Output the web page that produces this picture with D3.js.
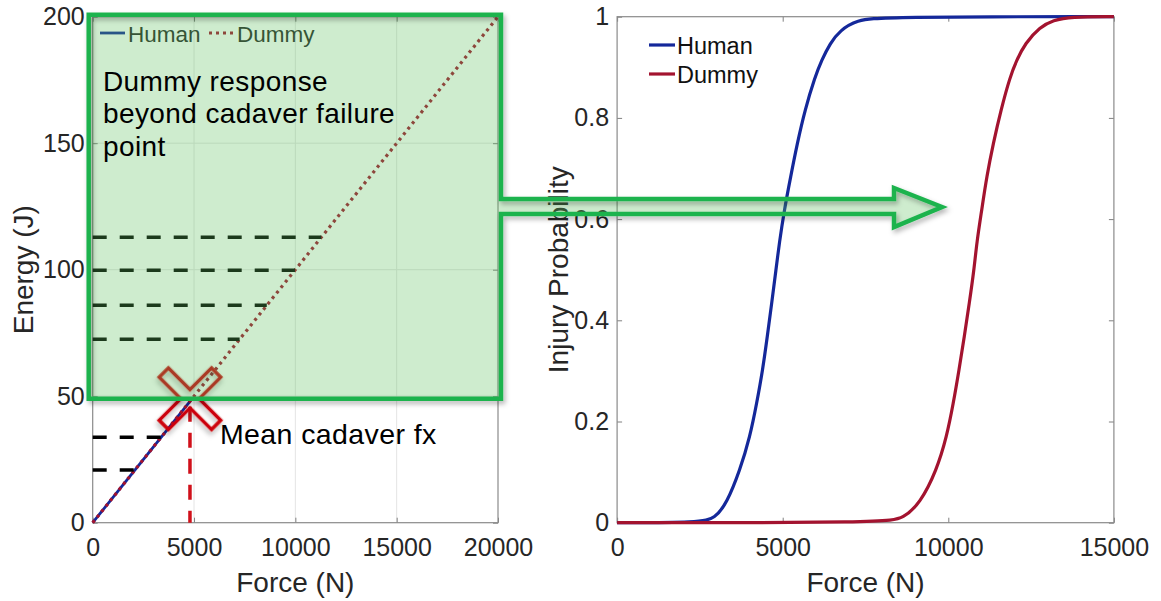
<!DOCTYPE html>
<html>
<head>
<meta charset="utf-8">
<script src="https://cdn.jsdelivr.net/npm/d3@7"></script>
<style>
  body { margin: 0; background: #fff; }
  svg { display: block; font-family: "Liberation Sans", Arial, sans-serif; }
  .tick text { fill: #262626; font-size: 25px; }
  .tick line { stroke: #808080; }
</style>
</head>
<body>
<div id="chart"></div>
<script>
// left panel: energy vs force
var leftForce = [0, 20000];
var dummyEnergy = [0, 200];
var humanForce = [0, 4800];
var humanEnergy = [0, 48];
var meanFx = 4800, meanE = 49;
var dashLevels = [112.8, 99.8, 85.9, 72.5, 33.8, 20.8];
var leftXTicks = [0, 5000, 10000, 15000, 20000];
var leftYTicks = [0, 50, 100, 150, 200];

// right panel: injury probability vs force
var humanCurveForce = [0, 2500, 2956, 3309, 3711, 4013, 4215, 4396, 4535, 4668, 4798, 4898, 5048, 5241, 5441, 5673, 5975, 6177, 6428, 6730, 7234, 8000, 15000];
var humanCurveProb  = [0, 0, 0.009, 0.038, 0.104, 0.17, 0.236, 0.302, 0.368, 0.434, 0.5, 0.553, 0.618, 0.684, 0.75, 0.816, 0.881, 0.914, 0.947, 0.973, 0.993, 1, 1];
var dummyCurveForce = [0, 8140, 8642, 9146, 9650, 9952, 10152, 10324, 10484, 10635, 10777, 10858, 11009, 11160, 11359, 11591, 11863, 12065, 12316, 12769, 13171, 13675, 15000];
var dummyCurveProb  = [0, 0, 0.009, 0.038, 0.104, 0.17, 0.236, 0.302, 0.368, 0.434, 0.5, 0.553, 0.618, 0.684, 0.75, 0.816, 0.881, 0.914, 0.947, 0.98, 0.993, 1, 1];
var rightXTicks = [0, 5000, 10000, 15000];
var rightYTicks = [0, 0.2, 0.4, 0.6, 0.8, 1];

var humanColor = "#14289a", dummyColor = "#a3132f";

(function() {
    var width = 1161, height = 601;

    var svg = d3.select("#chart")
        .append("svg")
            .attr("width", width)
            .attr("height", height);

    var defs = svg.append("defs");
    defs.append("filter")
        .attr("id", "shadow")
        .attr("x", "-10%").attr("y", "-10%")
        .attr("width", "130%").attr("height", "130%")
        .append("feDropShadow")
            .attr("dx", 2).attr("dy", 3)
            .attr("stdDeviation", 2.5)
            .attr("flood-color", "#000")
            .attr("flood-opacity", 0.3);

    var xL = d3.scaleLinear().domain([0, 20000]).range([92.7, 498]),
        yL = d3.scaleLinear().domain([0, 200]).range([522.7, 16.7]),
        xR = d3.scaleLinear().domain([0, 15000]).range([617.1, 1113.9]),
        yR = d3.scaleLinear().domain([0, 1]).range([522.7, 16.7]);

    function drawAxes(g, x, y, xTicks, yTicks, yFmt) {
        g.append("g")
            .attr("transform", "translate(0," + y.range()[0] + ")")
            .call(d3.axisBottom(x).tickValues(xTicks).tickFormat(d3.format("d"))
                .tickSizeInner(-5).tickSizeOuter(0).tickPadding(16))
            .call(function(a) { a.select(".domain").remove(); });
        g.append("g")
            .attr("transform", "translate(0," + y.range()[1] + ")")
            .call(d3.axisTop(x).tickValues(xTicks).tickFormat("")
                .tickSizeInner(-5).tickSizeOuter(0))
            .call(function(a) { a.select(".domain").remove(); });
        g.append("g")
            .attr("transform", "translate(" + x.range()[0] + ",0)")
            .call(d3.axisLeft(y).tickValues(yTicks).tickFormat(yFmt)
                .tickSizeInner(-5).tickSizeOuter(0).tickPadding(8))
            .call(function(a) { a.select(".domain").remove(); });
        g.append("g")
            .attr("transform", "translate(" + x.range()[1] + ",0)")
            .call(d3.axisRight(y).tickValues(yTicks).tickFormat("")
                .tickSizeInner(-5).tickSizeOuter(0))
            .call(function(a) { a.select(".domain").remove(); });
        g.append("rect")
            .attr("x", x.range()[0])
            .attr("y", y.range()[1])
            .attr("width", x.range()[1] - x.range()[0])
            .attr("height", y.range()[0] - y.range()[1])
            .style("fill", "none")
            .style("stroke", "#8a8a8a")
            .style("stroke-width", 1.2);
        g.selectAll(".tick text").style("font-size", "25px");
    }

    // ---------- left panel ----------
    var left = svg.append("g");

    left.append("g").selectAll("line.vgrid")
        .data(leftXTicks.slice(1, -1))
        .enter().append("line")
            .attr("x1", function(d) { return xL(d); })
            .attr("x2", function(d) { return xL(d); })
            .attr("y1", yL(0)).attr("y2", yL(200))
            .style("stroke", "#e4e4e4");
    left.append("g").selectAll("line.hgrid")
        .data(leftYTicks.slice(1, -1))
        .enter().append("line")
            .attr("x1", xL(0)).attr("x2", xL(20000))
            .attr("y1", function(d) { return yL(d); })
            .attr("y2", function(d) { return yL(d); })
            .style("stroke", "#e4e4e4");

    drawAxes(left, xL, yL, leftXTicks, leftYTicks, d3.format("d"));

    var lineL = d3.line()
        .x(function(d) { return xL(d[0]); })
        .y(function(d) { return yL(d[1]); });

    left.append("path")
        .attr("d", lineL(d3.zip(humanForce, humanEnergy)))
        .style("fill", "none")
        .style("stroke", humanColor)
        .style("stroke-width", 2.8);

    left.append("path")
        .attr("d", lineL(d3.zip(leftForce, dummyEnergy)))
        .style("fill", "none")
        .style("stroke", dummyColor)
        .style("stroke-width", 3.2)
        .style("stroke-dasharray", "3,4");

    // dashed energy levels, ending on the dummy response line
    var forceAt = d3.scaleLinear().domain(dummyEnergy).range(leftForce);
    left.append("g").selectAll("line")
        .data(dashLevels)
        .enter().append("line")
            .attr("x1", xL(0))
            .attr("x2", function(d) { return xL(forceAt(d)); })
            .attr("y1", function(d) { return yL(d); })
            .attr("y2", function(d) { return yL(d); })
            .style("stroke", "#000")
            .style("stroke-width", 3.5)
            .style("stroke-dasharray", "14,13");

    // mean cadaver fracture: dashed drop line + cross
    left.append("line")
        .attr("x1", xL(meanFx)).attr("x2", xL(meanFx))
        .attr("y1", yL(meanE) + 8).attr("y2", yL(0))
        .style("stroke", "#d0101a")
        .style("stroke-width", 3.5)
        .style("stroke-dasharray", "15,11");

    var a = 6.5, b = 37;
    var cross = [[-a,-b],[a,-b],[a,-a],[b,-a],[b,a],[a,a],[a,b],[-a,b],[-a,a],[-b,a],[-b,-a],[-a,-a]];
    left.append("polygon")
        .attr("points", cross.map(function(p) { return p.join(","); }).join(" "))
        .attr("transform", "translate(" + xL(meanFx) + "," + yL(meanE) + ") rotate(45)")
        .style("fill", "none")
        .style("stroke", "#cc0008")
        .style("stroke-width", 3.4)
        .attr("filter", "url(#shadow)");

    // legend (left)
    var legL = left.append("g").attr("transform", "translate(100,33)");
    var legLItems = [
        {name: "Human", color: humanColor, dash: null, x: 0},
        {name: "Dummy", color: dummyColor, dash: "3,4", x: 109}
    ];
    legLItems.forEach(function(d) {
        legL.append("line")
            .attr("x1", d.x).attr("x2", d.x + 25)
            .style("stroke", d.color)
            .style("stroke-width", 2.8)
            .style("stroke-dasharray", d.dash);
        legL.append("text")
            .attr("x", d.x + 28).attr("y", 8.5)
            .style("font-size", "22.5px")
            .style("fill", "#262626")
            .text(d.name);
    });

    left.append("text")
        .attr("x", d3.mean(xL.range()))
        .attr("y", 592)
        .attr("text-anchor", "middle")
        .style("font-size", "28px")
        .style("fill", "#262626")
        .text("Force (N)");
    left.append("text")
        .attr("transform", "translate(33," + d3.mean(yL.range()) + ") rotate(-90)")
        .attr("text-anchor", "middle")
        .style("font-size", "28px")
        .style("fill", "#262626")
        .text("Energy (J)");

    // ---------- right panel ----------
    var right = svg.append("g");
    drawAxes(right, xR, yR, rightXTicks, rightYTicks, function(d) { return d3.format("")(+d.toFixed(1)); });

    var lineR = d3.line()
        .curve(d3.curveBasis)
        .x(function(d) { return xR(d[0]); })
        .y(function(d) { return yR(d[1]); });

    right.append("path")
        .attr("d", lineR(d3.zip(humanCurveForce, humanCurveProb)))
        .style("fill", "none")
        .style("stroke", humanColor)
        .style("stroke-width", 3.2);
    right.append("path")
        .attr("d", lineR(d3.zip(dummyCurveForce, dummyCurveProb)))
        .style("fill", "none")
        .style("stroke", dummyColor)
        .style("stroke-width", 3.2);

    var legR = right.append("g").attr("transform", "translate(649,45)");
    [{name: "Human", color: humanColor}, {name: "Dummy", color: dummyColor}].forEach(function(d, i) {
        legR.append("line")
            .attr("x1", 0).attr("x2", 26)
            .attr("y1", i * 29).attr("y2", i * 29)
            .style("stroke", d.color)
            .style("stroke-width", 3.2);
        legR.append("text")
            .attr("x", 28).attr("y", i * 29 + 9)
            .style("font-size", "23.5px")
            .style("fill", "#111")
            .text(d.name);
    });

    right.append("text")
        .attr("x", d3.mean(xR.range()))
        .attr("y", 592)
        .attr("text-anchor", "middle")
        .style("font-size", "28px")
        .style("fill", "#262626")
        .text("Force (N)");
    right.append("text")
        .attr("transform", "translate(568," + d3.mean(yR.range()) + ") rotate(-90)")
        .attr("text-anchor", "middle")
        .style("font-size", "28px")
        .style("fill", "#262626")
        .text("Injury Probability");

    // ---------- green callout box + arrow ----------
    var boxL = xL(0) - 4, boxR = xL(20000) + 3,
        boxT = yL(200) - 2, boxB = yL(meanE),
        shaftT = 199, shaftB = 214, headX = 894, headT = 188, headB = 227,
        tipX = 942, tipY = 207;
    var callout = "M" + boxL + "," + boxT + "H" + boxR + "V" + shaftT +
        "H" + headX + "V" + headT + "L" + tipX + "," + tipY + "L" + headX + "," + headB +
        "V" + shaftB + "H" + boxR + "V" + boxB + "H" + boxL + "Z";

    svg.append("path")
        .attr("d", callout)
        .style("fill", "#5cbf5c")
        .style("fill-opacity", 0.3)
        .style("stroke", "none");
    svg.append("path")
        .attr("d", callout)
        .style("fill", "none")
        .style("stroke", "#1fb34e")
        .style("stroke-width", 4.5)
        .style("stroke-linejoin", "miter")
        .attr("filter", "url(#shadow)");

    var note = svg.append("text")
        .style("font-size", "28px")
        .style("letter-spacing", "0.4px")
        .style("fill", "#000");
    ["Dummy response", "beyond cadaver failure", "point"].forEach(function(t, i) {
        note.append("tspan")
            .attr("x", 103)
            .attr("y", 91 + i * 32.3)
            .text(t);
    });

    svg.append("text")
        .attr("x", xL(meanFx) + 30)
        .attr("y", 444)
        .style("font-size", "28.5px")
        .style("letter-spacing", "0.4px")
        .style("fill", "#000")
        .text("Mean cadaver fx");
})();
</script>
</body>
</html>
